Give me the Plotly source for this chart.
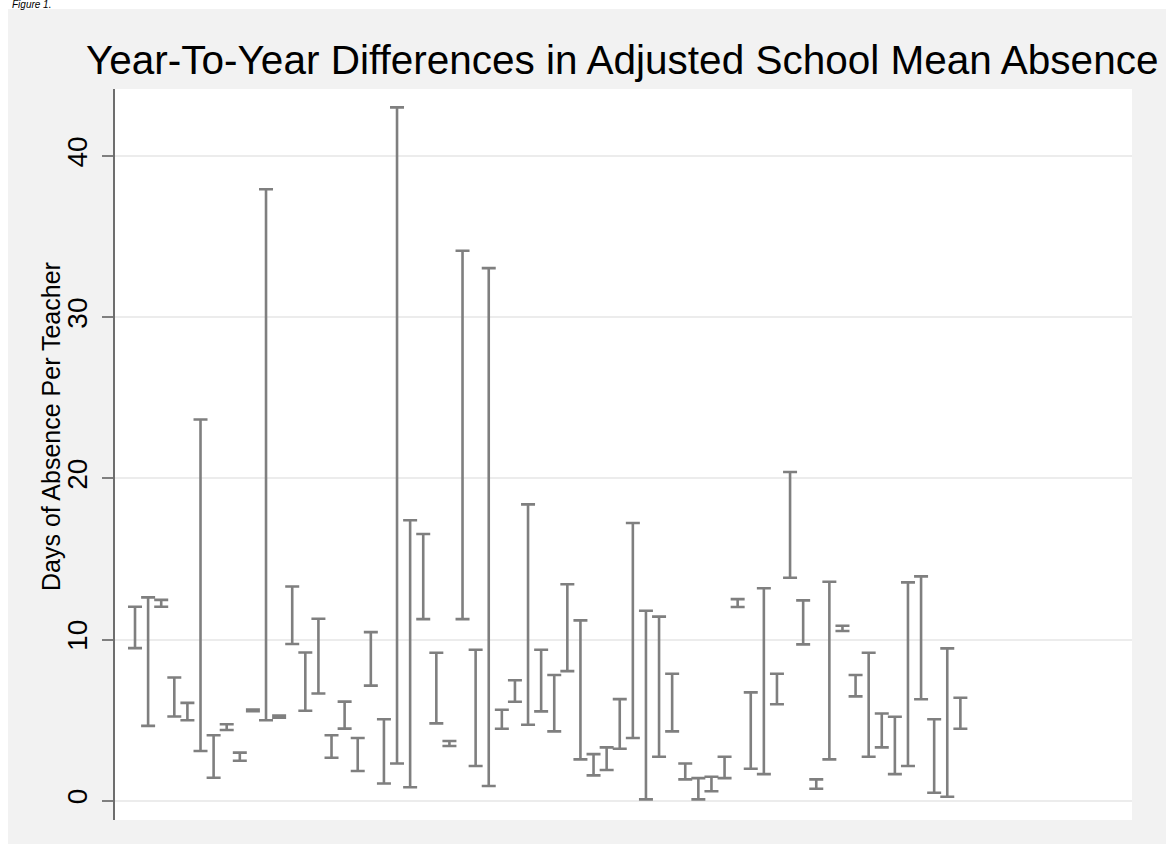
import plotly.graph_objects as go

# School index (x categories)
school = list(range(1, 65))

# Lower and upper ends of each school's year-to-year range (days of absence per teacher)
low = [9.47, 4.64, 12.04, 5.22, 4.99, 3.08, 1.42, 4.39, 2.48, 5.55, 4.99, 5.15, 9.72, 5.58, 6.65, 2.66,
       4.47, 1.84, 7.14, 1.07, 2.31, 0.83, 11.27, 4.80, 3.39, 11.27, 2.15, 0.91, 4.46, 6.14, 4.71, 5.54,
       4.30, 8.04, 2.56, 1.57, 1.90, 3.22, 3.89, 0.08, 2.73, 4.30, 1.32, 0.08, 0.58, 1.40, 12.02, 1.98,
       1.65, 5.98, 13.84, 9.70, 0.74, 2.56, 10.53, 6.47, 2.73, 3.31, 1.65, 2.15, 6.29, 0.49, 0.24, 4.46]
high = [12.04, 12.62, 12.46, 7.64, 6.07, 23.66, 4.06, 4.74, 2.98, 5.65, 37.95, 5.28, 13.29, 9.20, 11.29, 4.06,
        6.15, 3.89, 10.46, 5.05, 43.03, 17.40, 16.55, 9.18, 3.70, 34.13, 9.37, 33.05, 5.64, 7.47, 18.39, 9.37,
        7.80, 13.43, 11.19, 2.89, 3.31, 6.30, 17.23, 11.79, 11.42, 7.88, 2.31, 1.40, 1.48, 2.73, 12.51, 6.72,
        13.18, 7.88, 20.40, 12.43, 1.32, 13.59, 10.86, 7.80, 9.18, 5.41, 5.21, 13.55, 13.92, 5.05, 9.45, 6.39]

y_ticks = [0, 10, 20, 30, 40]
title_text = "Year-To-Year Differences in Adjusted School Mean Absence"
y_title = "Days of Absence Per Teacher"
caption = "Figure 1."

BAR = "#7f7f7f"
FONT = "Liberation Sans, Arial, Helvetica, sans-serif"

W, H = 1166, 844
L, R, T, B = 115, 34, 89, 24
pw, ph = W - L - R, H - T - B


def px_x(p):
    return (p - L) / pw


def px_y(p):
    return (H - B - p) / ph


fig = go.Figure()
fig.add_trace(go.Scatter(
    x=school,
    y=low,
    mode="markers",
    marker=dict(size=1, color="rgba(0,0,0,0)"),
    error_y=dict(
        type="data",
        symmetric=False,
        array=[h - l for h, l in zip(high, low)],
        arrayminus=[0] * len(low),
        color=BAR,
        thickness=2.6,
        width=7,
    ),
    hoverinfo="skip",
    showlegend=False,
))

fig.update_layout(
    width=W, height=H,
    margin=dict(l=L, r=R, t=T, b=B, pad=0),
    paper_bgcolor="#f2f2f2",
    plot_bgcolor="white",
    font=dict(family=FONT, color="black"),
    showlegend=False,
    xaxis=dict(visible=False, range=[-0.527, 77.1], showgrid=False, zeroline=False),
    yaxis=dict(
        range=[-1.2, 44.17],
        tickvals=y_ticks,
        ticktext=[str(v) for v in y_ticks],
        tickangle=-90,
        tickfont=dict(size=28, family=FONT, color="black"),
        ticks="outside", ticklen=11, tickwidth=2, tickcolor="#7f7f7f",
        showline=True, linecolor="#6e6e6e", linewidth=2,
        showgrid=True, gridcolor="#ececec", gridwidth=2,
        zeroline=False,
        ticklabelstandoff=4,
    ),
    shapes=[
        dict(type="rect", xref="paper", yref="paper", x0=px_x(0), x1=px_x(W), y0=px_y(9), y1=px_y(0),
             fillcolor="white", line=dict(width=0), layer="above"),
        dict(type="rect", xref="paper", yref="paper", x0=px_x(0), x1=px_x(8), y0=px_y(H), y1=px_y(0),
             fillcolor="white", line=dict(width=0), layer="above"),
    ],
    annotations=[
        dict(text=title_text, xref="paper", yref="paper", x=px_x(622), y=px_y(60),
             xanchor="center", yanchor="middle", showarrow=False,
             font=dict(size=40.5, family=FONT, color="black")),
        dict(text=y_title, xref="paper", yref="paper", x=px_x(51), y=px_y(427),
             xanchor="center", yanchor="middle", textangle=-90, showarrow=False,
             font=dict(size=25, family=FONT, color="black")),
        dict(text="<i>" + caption + "</i>", xref="paper", yref="paper", x=px_x(10), y=px_y(4.5),
             xanchor="left", yanchor="middle", showarrow=False,
             font=dict(size=10, family=FONT, color="black")),
    ],
)

fig.write_html("out.html", config={"displayModeBar": False},
               post_script="document.body.style.margin='0px';")
